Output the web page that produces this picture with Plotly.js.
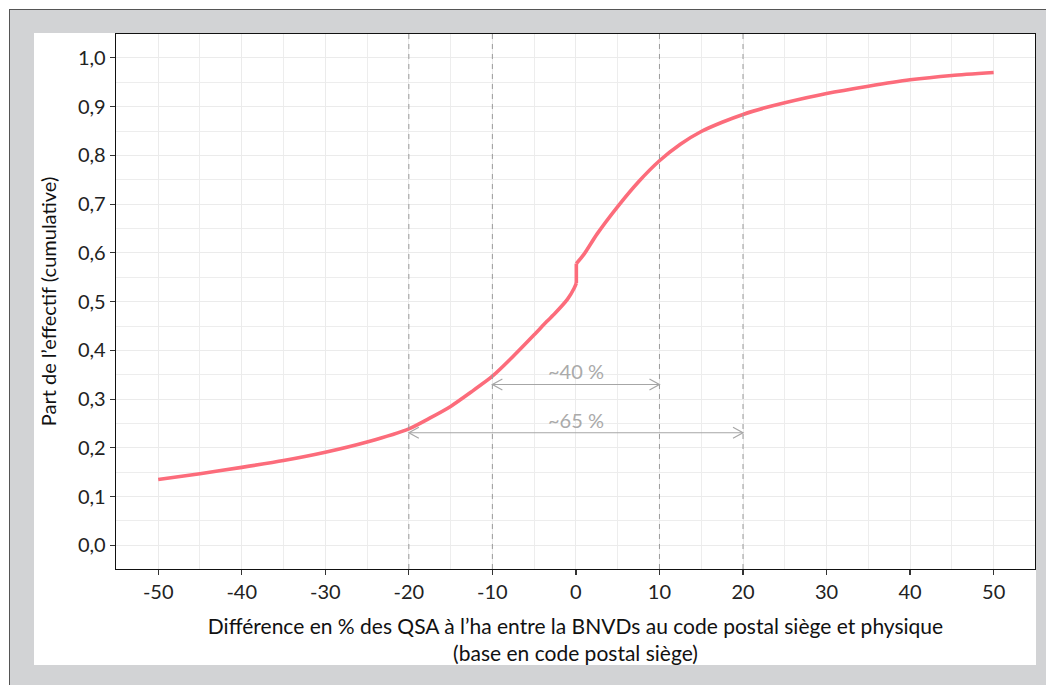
<!DOCTYPE html>
<html>
<head>
<meta charset="utf-8">
<script src="https://cdn.plot.ly/plotly-3.0.1.min.js"></script>
<style>
  html, body { margin:0; padding:0; background:#ffffff; width:1046px; height:685px; overflow:hidden; }
  #frame { position:absolute; left:9px; top:9px; width:1040px; height:680px; background:#d2d3d5;
           border-left:1.5px solid #555; border-top:1.5px solid #555; }
  #chart { position:absolute; left:34px; top:33px; width:1002px; height:632px; }
</style>
</head>
<body>
<div id="frame"></div>
<div id="chart"></div>
<script>
// Cumulative curve: difference in % (x) vs cumulative share (y)
const diffPct = [-50, -45, -40, -35, -30, -25, -20, -17.5, -15, -12.5, -10, -7.5, -5, -3.5, -2.5, -1, -0.2, 0.05, 0.05, 1, 2.5, 5, 7.5, 10, 12.5, 15, 17.5, 20, 22.5, 25, 30, 35, 40, 45, 50];
const cumShare = [0.135, 0.147, 0.160, 0.174, 0.191, 0.212, 0.239, 0.261, 0.285, 0.315, 0.347, 0.388, 0.432, 0.459, 0.476, 0.505, 0.528, 0.538, 0.578, 0.598, 0.638, 0.695, 0.746, 0.789, 0.823, 0.849, 0.868, 0.884, 0.897, 0.908, 0.927, 0.942, 0.955, 0.964, 0.970];

// Reference vertical lines
const refLines = [-20, -10, 10, 20];

// Range arrows
const arrowStart = [-10, -20];
const arrowEnd = [10, 20];
const arrowY = [0.330, 0.231];
const arrowLabels = ['~40 %', '~65 %'];
const labelY = [0.357, 0.257];

const xTicks = [-50, -40, -30, -20, -10, 0, 10, 20, 30, 40, 50];
const yTicks = [0, 0.1, 0.2, 0.3, 0.4, 0.5, 0.6, 0.7, 0.8, 0.9, 1.0];

const FONT = 'Lato, "Open Sans", sans-serif';
const arrowColor = '#a6a6a6';
const curveColor = '#fc6c7b';

const shapes = [];
refLines.forEach(v => shapes.push({
  type:'line', xref:'x', yref:'paper', x0:v, x1:v, y0:0, y1:1,
  line:{color:'#9a9a9a', width:1, dash:'5px,5px'}, layer:'above'
}));
for (let i = 0; i < arrowY.length; i++) {
  shapes.push({ type:'line', xref:'x', yref:'y', x0:arrowStart[i], x1:arrowEnd[i], y0:arrowY[i], y1:arrowY[i],
    line:{color:arrowColor, width:1.2}, layer:'above' });
  shapes.push({ type:'path', xref:'x', yref:'y', xsizemode:'pixel', ysizemode:'pixel',
    xanchor:arrowStart[i], yanchor:arrowY[i], path:'M 10,5.5 L 0,0 L 10,-5.5',
    line:{color:arrowColor, width:1.2}, layer:'above' });
  shapes.push({ type:'path', xref:'x', yref:'y', xsizemode:'pixel', ysizemode:'pixel',
    xanchor:arrowEnd[i], yanchor:arrowY[i], path:'M -10,5.5 L 0,0 L -10,-5.5',
    line:{color:arrowColor, width:1.2}, layer:'above' });
}

const annotations = arrowLabels.map((t, i) => ({
  x:0, y:labelY[i], xref:'x', yref:'y', text:t, showarrow:false,
  font:{family:FONT, size:20, color:'#aaaaaa'}
}));

// split the curve at the vertical jump (the repeated x value) so the smoothing does not overshoot
let jump = 0;
for (let i = 1; i < diffPct.length; i++) if (diffPct[i] === diffPct[i-1]) { jump = i; break; }
function seg(a, b, shape) {
  return { x: diffPct.slice(a, b), y: cumShare.slice(a, b), type:'scatter', mode:'lines',
    line:{color:curveColor, width:3.6, shape:shape, smoothing:0.6}, hoverinfo:'skip' };
}
const traces = [seg(0, jump, 'spline'), seg(jump - 1, jump + 1, 'linear'), seg(jump, diffPct.length, 'spline')];

const layout = {
  width:1002, height:632,
  margin:{l:82, r:1, t:1, b:96},
  paper_bgcolor:'#ffffff', plot_bgcolor:'#ffffff',
  separators:', ',
  showlegend:false,
  font:{family:FONT, size:20, color:'#222'},
  xaxis:{
    range:[-55.05, 54.95], tickvals:xTicks, ticktext:xTicks.map(String),
    showgrid:true, gridcolor:'#ebebeb', gridwidth:1,
    minor:{dtick:5, tick0:0, showgrid:true, gridcolor:'#ededed', gridwidth:1},
    zeroline:false, showline:true, mirror:true, linecolor:'#111', linewidth:1.3,
    ticks:'outside', ticklen:5, tickcolor:'#333', tickwidth:1.2,
    tickfont:{family:FONT, size:20, color:'#222'},
    title:{text:'Différence en % des QSA à l’ha entre la BNVDs au code postal siège et physique<br>(base en code postal siège)',
      font:{family:FONT, size:21, color:'#111'}, standoff:19}
  },
  yaxis:{
    range:[-0.0485, 1.049], tickvals:yTicks, tickformat:'.1f',
    showgrid:true, gridcolor:'#ebebeb', gridwidth:1,
    minor:{dtick:0.05, tick0:0, showgrid:true, gridcolor:'#ededed', gridwidth:1},
    zeroline:false, showline:true, mirror:true, linecolor:'#111', linewidth:1.3,
    ticks:'outside', ticklen:5, tickcolor:'#333', tickwidth:1.2,
    tickfont:{family:FONT, size:20, color:'#222'},
    title:{text:'Part de l’effectif (cumulative)', font:{family:FONT, size:20, color:'#111'}, standoff:16}
  },
  shapes: shapes,
  annotations: annotations
};

Plotly.newPlot('chart', traces, layout, {displayModeBar:false, staticPlot:true});
</script>
</body>
</html>
